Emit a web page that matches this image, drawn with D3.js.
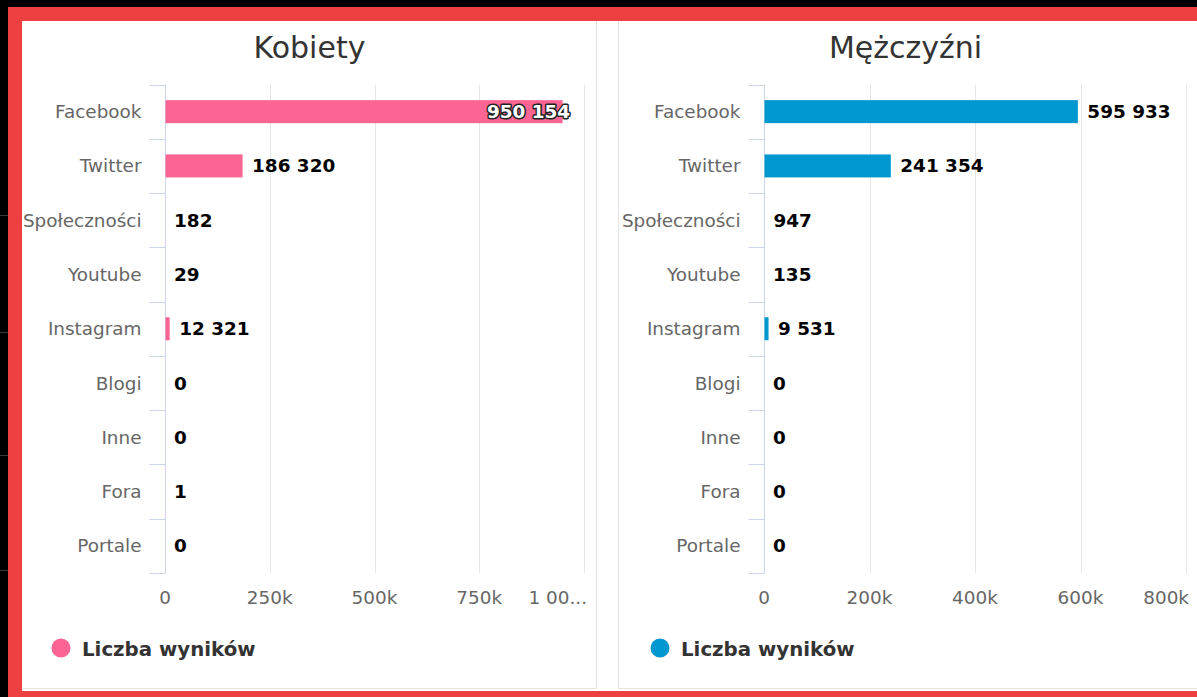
<!DOCTYPE html>
<html>
<head>
<meta charset="utf-8">
<script src="https://cdn.jsdelivr.net/npm/d3@7"></script>
<style>
    body { margin: 0; background: #000; overflow: hidden; }
    svg { display: block; font-family: "DejaVu Sans", sans-serif; }
</style>
</head>
<body>
<svg id="chart" width="1197" height="697"></svg>
<script>
const categories = ['Facebook', 'Twitter', 'Społeczności', 'Youtube', 'Instagram', 'Blogi', 'Inne', 'Fora', 'Portale'];
const womenValues = [950154, 186320, 182, 29, 12321, 0, 0, 1, 0];
const menValues = [595933, 241354, 947, 135, 9531, 0, 0, 0, 0];
const womenTicks = [0, 250000, 500000, 750000, 1000000];
const womenTickLabels = ['0', '250k', '500k', '750k', '1 00...'];
const menTicks = [0, 200000, 400000, 600000, 800000];
const menTickLabels = ['0', '200k', '400k', '600k', '800k'];
const titles = ['Kobiety', 'Mężczyźni'];
const seriesName = 'Liczba wyników';

const locale = d3.formatLocale({decimal: ',', thousands: ' ', grouping: [3], currency: ['', '']});
const fmt = locale.format(',d');

const svg = d3.select('#chart');

// frame: red border over black background
svg.append('rect').attr('x', 8).attr('y', 7).attr('width', 1189).attr('height', 690).attr('fill', '#ee4040');
svg.append('rect').attr('x', 22).attr('y', 21).attr('width', 1175).attr('height', 670).attr('fill', '#fff');
svg.selectAll('.strip')
    .data([215, 332, 455, 570])
    .join('line')
    .attr('x1', 0).attr('x2', 8)
    .attr('y1', d => d + 0.5).attr('y2', d => d + 0.5)
    .attr('stroke', '#3a3a3a');

const drawChart = (cardLeft, left, axisWidth, legendX, title, values, ticks, tickLabels, domainMax, color) => {
    const plot = {top: 84.5, bottom: 573};
    const xScale = d3.scaleLinear()
        .domain([0, domainMax])
        .range([left + 143, left + 143 + axisWidth]);
    const yScale = d3.scaleBand()
        .domain(categories)
        .range([plot.top, plot.bottom]);
    const barH = 23;

    const g = svg.append('g');

    // card border
    const cardRight = cardLeft + 575;
    g.append('path')
        .attr('d', cardLeft > 100
            ? `M${cardLeft + 0.5},21 V688.5 H1197`
            : `M${cardRight - 0.5},21 V688.5 H${cardLeft}`)
        .attr('fill', 'none')
        .attr('stroke', '#e3e3e3');

    g.append('text')
        .attr('x', cardLeft + 575 / 2)
        .attr('y', 58)
        .attr('text-anchor', 'middle')
        .attr('font-size', 30)
        .attr('fill', '#333')
        .text(title);

    // gridlines
    g.append('g')
        .selectAll('line')
        .data(ticks.slice(1))
        .join('line')
        .attr('x1', d => Math.round(xScale(d)) + 0.5)
        .attr('x2', d => Math.round(xScale(d)) + 0.5)
        .attr('y1', plot.top)
        .attr('y2', plot.bottom)
        .attr('stroke', '#e6e6e6');

    // y axis line and band ticks
    const x0 = Math.round(xScale(0)) + 0.5;
    g.append('line')
        .attr('x1', x0).attr('x2', x0)
        .attr('y1', plot.top).attr('y2', plot.bottom)
        .attr('stroke', '#ccd6eb');
    const bounds = categories.map(c => yScale(c)).concat([plot.bottom]);
    g.append('g')
        .selectAll('line')
        .data(bounds)
        .join('line')
        .attr('x1', x0 - 16).attr('x2', x0)
        .attr('y1', d => Math.round(d) + 0.5)
        .attr('y2', d => Math.round(d) + 0.5)
        .attr('stroke', '#ccd6eb');

    // category labels
    g.append('g')
        .selectAll('text')
        .data(categories)
        .join('text')
        .attr('x', x0 - 24)
        .attr('y', d => yScale(d) + yScale.bandwidth() / 2 + 6.5)
        .attr('text-anchor', 'end')
        .attr('font-size', 18.4)
        .attr('fill', '#666')
        .text(d => d);

    // x tick labels
    g.append('g')
        .selectAll('text')
        .data(ticks)
        .join('text')
        .attr('x', (d, i) => i === ticks.length - 1 ? xScale(d) + 3 : xScale(d))
        .attr('y', 604)
        .attr('text-anchor', (d, i) => i === ticks.length - 1 ? 'end' : 'middle')
        .attr('font-size', 18.4)
        .attr('fill', '#666')
        .text((d, i) => tickLabels[i]);

    // bars
    g.append('g')
        .selectAll('rect')
        .data(values)
        .join('rect')
        .attr('x', xScale(0) + 0.5)
        .attr('y', (d, i) => yScale(categories[i]) + (yScale.bandwidth() - barH) / 2)
        .attr('width', d => Math.max(0, xScale(d) - xScale(0) - 1))
        .attr('height', barH)
        .attr('fill', color);

    // value labels
    const plotRight = xScale.range()[1];
    g.append('g')
        .selectAll('text')
        .data(values)
        .join('text')
        .attr('y', (d, i) => yScale(categories[i]) + yScale.bandwidth() / 2 + 6.5)
        .attr('font-size', 18.4)
        .attr('font-weight', 'bold')
        .text(d => fmt(d))
        .each(function (d) {
            const t = d3.select(this);
            const w = this.getComputedTextLength();
            const x = xScale(d) + 9;
            if (x + w > plotRight) {
                t.attr('x', xScale(d) + 7)
                    .attr('text-anchor', 'end')
                    .attr('fill', '#fff')
                    .attr('stroke', '#222')
                    .attr('stroke-width', 3)
                    .attr('stroke-linejoin', 'round')
                    .attr('paint-order', 'stroke');
            } else {
                t.attr('x', x).attr('fill', '#000');
            }
        });

    // legend
    g.append('circle')
        .attr('cx', legendX)
        .attr('cy', 648)
        .attr('r', 9.5)
        .attr('fill', color);
    g.append('text')
        .attr('x', legendX + 21)
        .attr('y', 655.5)
        .attr('font-size', 19.8)
        .attr('font-weight', 'bold')
        .attr('fill', '#333')
        .text(seriesName);
};

drawChart(22, 22, 419, 61, titles[0], womenValues, womenTicks, womenTickLabels, 1000000, '#fc6593');
drawChart(618, 621, 422, 660, titles[1], menValues, menTicks, menTickLabels, 800000, '#0098cf');
</script>
</body>
</html>
